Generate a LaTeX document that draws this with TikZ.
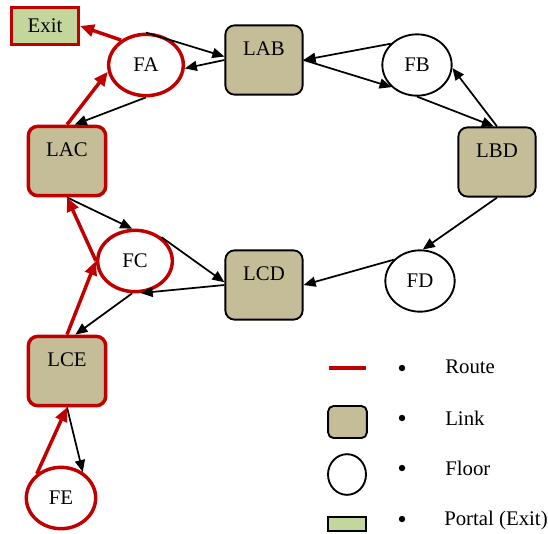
\documentclass[tikz,border=0pt]{standalone}
\usepackage{fontspec}
\setmainfont{Liberation Serif}
\usetikzlibrary{arrows.meta,shapes.geometric}

\definecolor{linkTan}{RGB}{196,189,151}
\definecolor{exitGreen}{RGB}{195,214,155}
\definecolor{routeRed}{RGB}{192,0,0}

\tikzset{
  txt/.style={font=\fontsize{15.6}{18}\selectfont},
  link/.style={txt, draw, line width=1.4pt, fill=linkTan, rounded corners=7pt,
    minimum width=58pt, minimum height=52pt, inner sep=0pt, text height=10.5pt, text depth=18pt},
  floor/.style={txt, draw, line width=1.4pt, ellipse, fill=white,
    minimum width=52pt, minimum height=46pt, inner sep=0pt},
  onroute/.style={draw=routeRed, line width=2.6pt},
  portal/.style={txt, rectangle, fill=exitGreen, inner sep=0pt},
  hop/.style={line width=1.3pt, -{Triangle[length=9pt,width=7.5pt]}},
  route/.style={draw=routeRed, line width=2.6pt, -{Triangle[length=10.5pt,width=9pt]}},
  dot/.style={circle, fill, inner sep=0pt, minimum size=4.8pt},
}

\begin{document}
\begin{tikzpicture}[x=0.75pt,y=0.75pt,yscale=-1,xscale=1]
\useasboundingbox (0,0) rectangle (548,533);

%Shape: Portal
\node[portal, onroute, minimum width=50pt, minimum height=28pt] (exit) at (45,26) {Exit};
%Shape: Floors
\node[floor, onroute, minimum width=56pt] (fa) at (146,65) {FA};
\node[floor] (fb) at (417,65) {FB};
\node[floor, onroute, minimum width=56pt] (fc) at (135,261) {FC};
\node[floor] (fd) at (420,281) {FD};
\node[floor, onroute] (fe) at (61,498) {FE};
%Shape: Links
\node[link] (lab) at (264,60) {LAB};
\node[link] (lbd) at (497,162) {LBD};
\node[link] (lcd) at (264,285) {LCD};
\node[link, onroute] (lac) at (67,161) {LAC};
\node[link, onroute] (lce) at (67,371) {LCE};

%Straight Lines
\draw[hop] (fa.north) -- (lab.175);
\draw[hop] (lab.west) -- (fa.355);
\draw[hop] (fa.south) -- (lac.78);
\draw[hop] (fb.141) -- (lab.east);
\draw[hop] (lab.east) -- (fb.221);
\draw[hop] (fb.south) -- (lbd.95);
\draw[hop] (lbd.north) -- (fb.355);
\draw[hop] (lbd.south) -- (fd.85);
\draw[hop] (fd.141) -- (lcd.east);
\draw[hop] (lac.south) -- (fc.95);
\draw[hop] (fc.42) -- (lcd.176);
\draw[hop] (lcd.west) -- (fc.280);
\draw[hop] (fc.265) -- (lce.77);
\draw[hop] (lce.south) -- (fe.50);
%Route
\draw[route] (fa.135) -- (exit.east);
\draw[route] (lac.north) -- (fa.190);
\draw[route] (fc.west) -- (lac.south);
\draw[route] (lce.north) -- (fc.west);
\draw[route] (fe.135) -- (lce.south);

%Legend
\coordinate (keyRouteA) at (329,368);
\coordinate (keyRouteB) at (366,368);
\draw[onroute] (keyRouteA) -- (keyRouteB);
\node[link, minimum width=29pt, minimum height=24pt, rounded corners=4pt, text height=0pt, text depth=0pt] (keyLink) at (347.5,422) {};
\node[floor, minimum width=28.5pt, minimum height=30.5pt] (keyFloor) at (347,474.5) {};
\node[portal, draw, line width=1.4pt, minimum width=28pt, minimum height=10pt] (keyPortal) at (347,524) {};
\node[dot] (dotRoute) at (402,368) {};
\node[dot] (dotLink) at (402,418) {};
\node[dot] (dotFloor) at (402,468) {};
\node[dot] (dotPortal) at (402,519) {};
% Text Node
\node[txt, anchor=west, inner sep=0pt] (txtRoute) at (445,367) {Route};
\node[txt, anchor=west, inner sep=0pt] (txtLink) at (445,418) {Link};
\node[txt, anchor=west, inner sep=0pt] (txtFloor) at (445,468) {Floor};
\node[txt, anchor=west, inner sep=0pt] (txtPortal) at (444,520) {Portal (Exit)};

\end{tikzpicture}
\end{document}
